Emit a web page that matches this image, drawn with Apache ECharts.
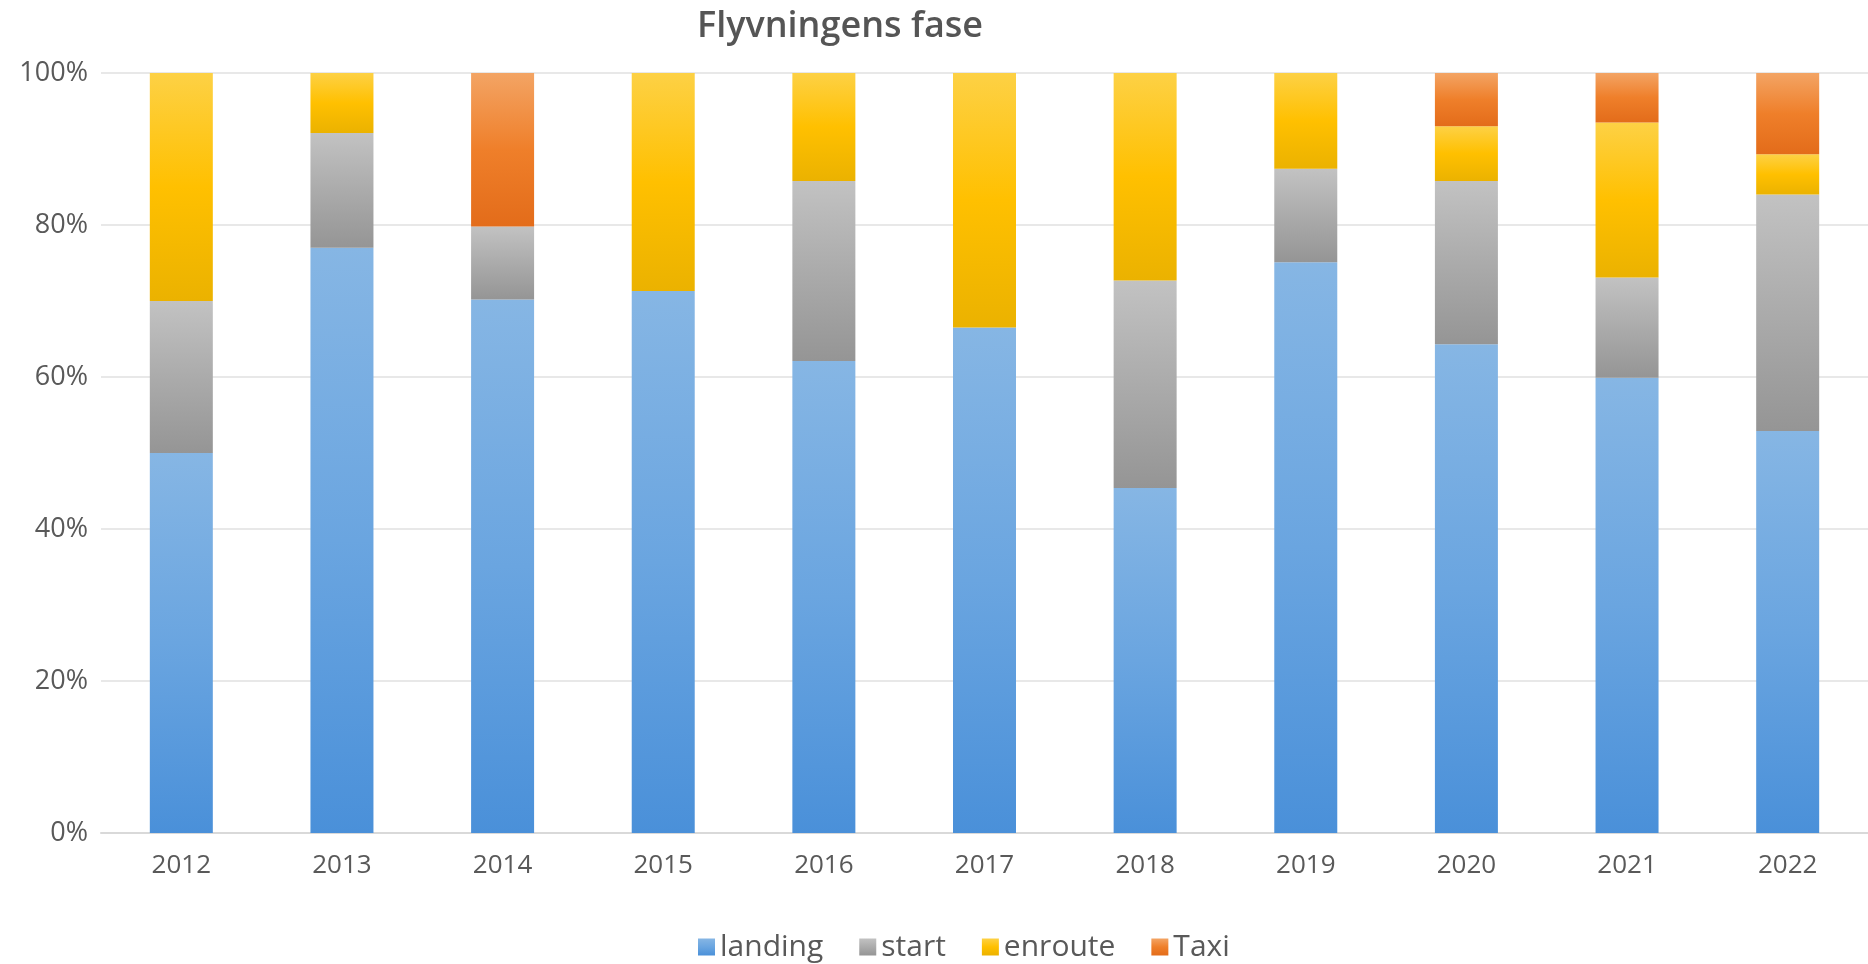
<!DOCTYPE html>
<html>
<head>
<meta charset="utf-8">
<script src="https://cdn.jsdelivr.net/npm/echarts@6/dist/echarts.min.js"></script>
<style>
html,body{margin:0;padding:0;background:#fff;}
#chart{width:1868px;height:964px;}
</style>
</head>
<body>
<div id="chart"></div>
<script>
const years = ['2012','2013','2014','2015','2016','2017','2018','2019','2020','2021','2022'];
const landing = [50.0, 77.0, 70.2, 71.3, 62.1, 66.5, 45.4, 75.1, 64.3, 59.9, 52.9];
const start   = [20.0, 15.1,  9.6,  0.0, 23.7,  0.0, 27.3, 12.3, 21.5, 13.2, 31.1];
const enroute = [30.0,  7.9,  0.0, 28.7, 14.2, 33.5, 27.3, 12.6,  7.2, 20.4,  5.3];
const taxi    = [ 0.0,  0.0, 20.2,  0.0,  0.0,  0.0,  0.0,  0.0,  7.0,  6.5, 10.7];
const yTicks = [0, 20, 40, 60, 80, 100];

function grad(stops){
  return {type:'linear', x:0, y:0, x2:0, y2:1,
    colorStops: stops.map((c,i)=>({offset:i/(stops.length-1), color:c}))};
}
const textColor = '#595959';
const font = 'Open Sans';

const chart = echarts.init(document.getElementById('chart'));
function mk(name, data, stops){
  return {name, type:'bar', stack:'total', data, barWidth:63,
    itemStyle:{color:grad(stops)}, emphasis:{disabled:true}};
}
chart.setOption({
  animation:false,
  backgroundColor:'#ffffff',
  title:{text:'Flyvningens fase', left:692, top:4,
    textStyle:{fontFamily:font, fontSize:36, fontWeight:600, color:'#555555'}},
  legend:{left:693, bottom:-3, itemWidth:17, itemHeight:17, itemGap:36,
    icon:'rect',
    textStyle:{fontFamily:font, fontSize:30, color:textColor},
    data:['landing','start','enroute','Taxi']},
  grid:{left:101, right:0, top:73, bottom:131, containLabel:false},
  xAxis:{type:'category', data:years,
    axisLine:{lineStyle:{color:'#d9d9d9', width:2}},
    axisTick:{show:false},
    axisLabel:{fontFamily:font, fontSize:26, color:textColor, margin:20}},
  yAxis:{type:'value', min:yTicks[0], max:yTicks[yTicks.length-1], interval:20,
    axisLine:{show:false}, axisTick:{show:false},
    splitLine:{lineStyle:{color:'#e8e8e8', width:2}},
    axisLabel:{fontFamily:font, fontSize:27, color:textColor, margin:13,
      formatter:'{value}%'}},
  series:[
    mk('landing', landing, ['#86b6e4','#6aa5e0','#4a90d9']),
    mk('start', start, ['#c2c2c2','#ababab','#959595']),
    mk('enroute', enroute, ['#fdd145','#ffc000','#ebb200']),
    mk('Taxi', taxi, ['#f3a464','#ef7f2a','#e36c1a'])
  ]
});
</script>
</body>
</html>
